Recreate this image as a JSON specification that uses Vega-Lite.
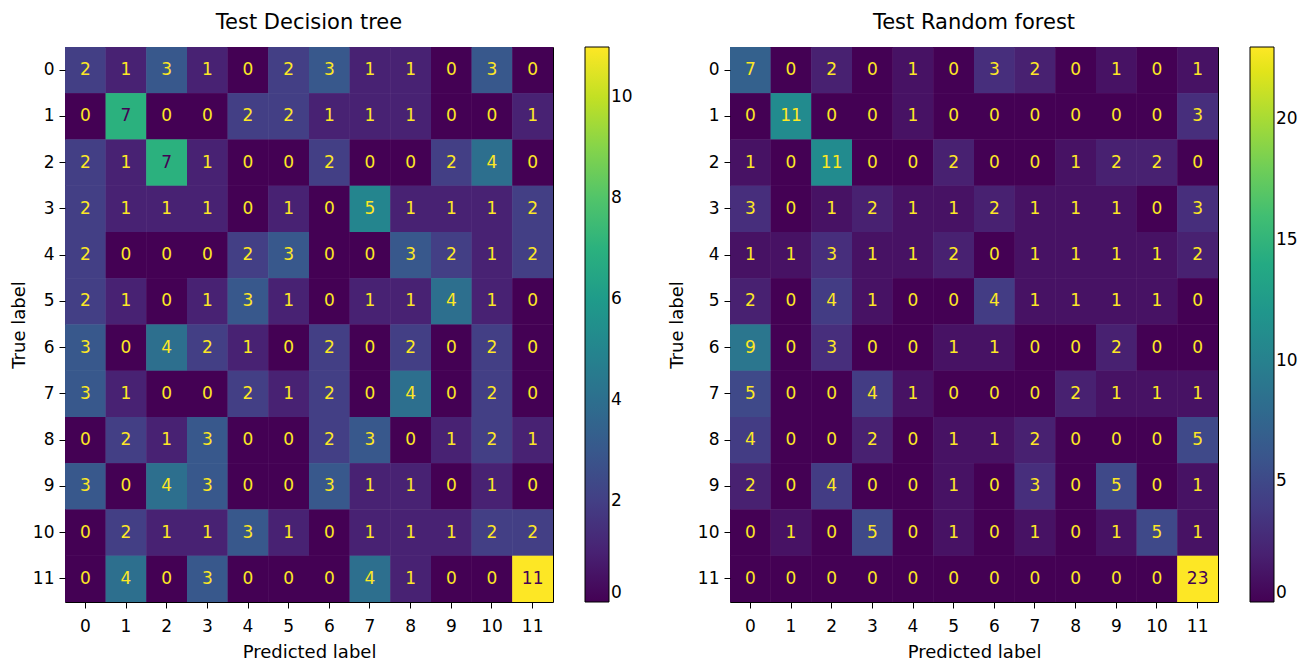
{
  "$schema": "https://vega.github.io/schema/vega-lite/v6.json",
  "padding": {"left": 9, "top": 11, "right": 0, "bottom": 0},
  "background": "white",
  "config": {
    "font": "DejaVu Sans",
    "view": {"stroke": "black", "strokeWidth": 1},
    "axis": {"labelFont": "DejaVu Sans", "labelFontSize": 17, "labelColor": "black", "titleFont": "DejaVu Sans", "titleFontSize": 18, "titleFontWeight": "normal", "titleColor": "black", "tickColor": "black", "tickSize": 6, "labelPadding": 5, "domain": false, "grid": false},
    "axisX": {"labelPadding": 10, "titlePadding": 9},
    "legend": {"labelFont": "DejaVu Sans", "labelFontSize": 17, "labelColor": "black", "gradientLength": 555, "gradientThickness": 24, "gradientStrokeColor": "black", "gradientStrokeWidth": 1, "offset": 32, "labelOffset": 13, "padding": 0},
    "title": {"font": "DejaVu Sans", "fontSize": 21, "fontWeight": "normal", "color": "black", "offset": 14}
  },
  "datasets": {
    "dt": [
      {"t":0,"p":0,"v":2},{"t":0,"p":1,"v":1},{"t":0,"p":2,"v":3},{"t":0,"p":3,"v":1},{"t":0,"p":4,"v":0},{"t":0,"p":5,"v":2},{"t":0,"p":6,"v":3},{"t":0,"p":7,"v":1},{"t":0,"p":8,"v":1},{"t":0,"p":9,"v":0},{"t":0,"p":10,"v":3},{"t":0,"p":11,"v":0},
      {"t":1,"p":0,"v":0},{"t":1,"p":1,"v":7},{"t":1,"p":2,"v":0},{"t":1,"p":3,"v":0},{"t":1,"p":4,"v":2},{"t":1,"p":5,"v":2},{"t":1,"p":6,"v":1},{"t":1,"p":7,"v":1},{"t":1,"p":8,"v":1},{"t":1,"p":9,"v":0},{"t":1,"p":10,"v":0},{"t":1,"p":11,"v":1},
      {"t":2,"p":0,"v":2},{"t":2,"p":1,"v":1},{"t":2,"p":2,"v":7},{"t":2,"p":3,"v":1},{"t":2,"p":4,"v":0},{"t":2,"p":5,"v":0},{"t":2,"p":6,"v":2},{"t":2,"p":7,"v":0},{"t":2,"p":8,"v":0},{"t":2,"p":9,"v":2},{"t":2,"p":10,"v":4},{"t":2,"p":11,"v":0},
      {"t":3,"p":0,"v":2},{"t":3,"p":1,"v":1},{"t":3,"p":2,"v":1},{"t":3,"p":3,"v":1},{"t":3,"p":4,"v":0},{"t":3,"p":5,"v":1},{"t":3,"p":6,"v":0},{"t":3,"p":7,"v":5},{"t":3,"p":8,"v":1},{"t":3,"p":9,"v":1},{"t":3,"p":10,"v":1},{"t":3,"p":11,"v":2},
      {"t":4,"p":0,"v":2},{"t":4,"p":1,"v":0},{"t":4,"p":2,"v":0},{"t":4,"p":3,"v":0},{"t":4,"p":4,"v":2},{"t":4,"p":5,"v":3},{"t":4,"p":6,"v":0},{"t":4,"p":7,"v":0},{"t":4,"p":8,"v":3},{"t":4,"p":9,"v":2},{"t":4,"p":10,"v":1},{"t":4,"p":11,"v":2},
      {"t":5,"p":0,"v":2},{"t":5,"p":1,"v":1},{"t":5,"p":2,"v":0},{"t":5,"p":3,"v":1},{"t":5,"p":4,"v":3},{"t":5,"p":5,"v":1},{"t":5,"p":6,"v":0},{"t":5,"p":7,"v":1},{"t":5,"p":8,"v":1},{"t":5,"p":9,"v":4},{"t":5,"p":10,"v":1},{"t":5,"p":11,"v":0},
      {"t":6,"p":0,"v":3},{"t":6,"p":1,"v":0},{"t":6,"p":2,"v":4},{"t":6,"p":3,"v":2},{"t":6,"p":4,"v":1},{"t":6,"p":5,"v":0},{"t":6,"p":6,"v":2},{"t":6,"p":7,"v":0},{"t":6,"p":8,"v":2},{"t":6,"p":9,"v":0},{"t":6,"p":10,"v":2},{"t":6,"p":11,"v":0},
      {"t":7,"p":0,"v":3},{"t":7,"p":1,"v":1},{"t":7,"p":2,"v":0},{"t":7,"p":3,"v":0},{"t":7,"p":4,"v":2},{"t":7,"p":5,"v":1},{"t":7,"p":6,"v":2},{"t":7,"p":7,"v":0},{"t":7,"p":8,"v":4},{"t":7,"p":9,"v":0},{"t":7,"p":10,"v":2},{"t":7,"p":11,"v":0},
      {"t":8,"p":0,"v":0},{"t":8,"p":1,"v":2},{"t":8,"p":2,"v":1},{"t":8,"p":3,"v":3},{"t":8,"p":4,"v":0},{"t":8,"p":5,"v":0},{"t":8,"p":6,"v":2},{"t":8,"p":7,"v":3},{"t":8,"p":8,"v":0},{"t":8,"p":9,"v":1},{"t":8,"p":10,"v":2},{"t":8,"p":11,"v":1},
      {"t":9,"p":0,"v":3},{"t":9,"p":1,"v":0},{"t":9,"p":2,"v":4},{"t":9,"p":3,"v":3},{"t":9,"p":4,"v":0},{"t":9,"p":5,"v":0},{"t":9,"p":6,"v":3},{"t":9,"p":7,"v":1},{"t":9,"p":8,"v":1},{"t":9,"p":9,"v":0},{"t":9,"p":10,"v":1},{"t":9,"p":11,"v":0},
      {"t":10,"p":0,"v":0},{"t":10,"p":1,"v":2},{"t":10,"p":2,"v":1},{"t":10,"p":3,"v":1},{"t":10,"p":4,"v":3},{"t":10,"p":5,"v":1},{"t":10,"p":6,"v":0},{"t":10,"p":7,"v":1},{"t":10,"p":8,"v":1},{"t":10,"p":9,"v":1},{"t":10,"p":10,"v":2},{"t":10,"p":11,"v":2},
      {"t":11,"p":0,"v":0},{"t":11,"p":1,"v":4},{"t":11,"p":2,"v":0},{"t":11,"p":3,"v":3},{"t":11,"p":4,"v":0},{"t":11,"p":5,"v":0},{"t":11,"p":6,"v":0},{"t":11,"p":7,"v":4},{"t":11,"p":8,"v":1},{"t":11,"p":9,"v":0},{"t":11,"p":10,"v":0},{"t":11,"p":11,"v":11}
    ],
    "rf": [
      {"t":0,"p":0,"v":7},{"t":0,"p":1,"v":0},{"t":0,"p":2,"v":2},{"t":0,"p":3,"v":0},{"t":0,"p":4,"v":1},{"t":0,"p":5,"v":0},{"t":0,"p":6,"v":3},{"t":0,"p":7,"v":2},{"t":0,"p":8,"v":0},{"t":0,"p":9,"v":1},{"t":0,"p":10,"v":0},{"t":0,"p":11,"v":1},
      {"t":1,"p":0,"v":0},{"t":1,"p":1,"v":11},{"t":1,"p":2,"v":0},{"t":1,"p":3,"v":0},{"t":1,"p":4,"v":1},{"t":1,"p":5,"v":0},{"t":1,"p":6,"v":0},{"t":1,"p":7,"v":0},{"t":1,"p":8,"v":0},{"t":1,"p":9,"v":0},{"t":1,"p":10,"v":0},{"t":1,"p":11,"v":3},
      {"t":2,"p":0,"v":1},{"t":2,"p":1,"v":0},{"t":2,"p":2,"v":11},{"t":2,"p":3,"v":0},{"t":2,"p":4,"v":0},{"t":2,"p":5,"v":2},{"t":2,"p":6,"v":0},{"t":2,"p":7,"v":0},{"t":2,"p":8,"v":1},{"t":2,"p":9,"v":2},{"t":2,"p":10,"v":2},{"t":2,"p":11,"v":0},
      {"t":3,"p":0,"v":3},{"t":3,"p":1,"v":0},{"t":3,"p":2,"v":1},{"t":3,"p":3,"v":2},{"t":3,"p":4,"v":1},{"t":3,"p":5,"v":1},{"t":3,"p":6,"v":2},{"t":3,"p":7,"v":1},{"t":3,"p":8,"v":1},{"t":3,"p":9,"v":1},{"t":3,"p":10,"v":0},{"t":3,"p":11,"v":3},
      {"t":4,"p":0,"v":1},{"t":4,"p":1,"v":1},{"t":4,"p":2,"v":3},{"t":4,"p":3,"v":1},{"t":4,"p":4,"v":1},{"t":4,"p":5,"v":2},{"t":4,"p":6,"v":0},{"t":4,"p":7,"v":1},{"t":4,"p":8,"v":1},{"t":4,"p":9,"v":1},{"t":4,"p":10,"v":1},{"t":4,"p":11,"v":2},
      {"t":5,"p":0,"v":2},{"t":5,"p":1,"v":0},{"t":5,"p":2,"v":4},{"t":5,"p":3,"v":1},{"t":5,"p":4,"v":0},{"t":5,"p":5,"v":0},{"t":5,"p":6,"v":4},{"t":5,"p":7,"v":1},{"t":5,"p":8,"v":1},{"t":5,"p":9,"v":1},{"t":5,"p":10,"v":1},{"t":5,"p":11,"v":0},
      {"t":6,"p":0,"v":9},{"t":6,"p":1,"v":0},{"t":6,"p":2,"v":3},{"t":6,"p":3,"v":0},{"t":6,"p":4,"v":0},{"t":6,"p":5,"v":1},{"t":6,"p":6,"v":1},{"t":6,"p":7,"v":0},{"t":6,"p":8,"v":0},{"t":6,"p":9,"v":2},{"t":6,"p":10,"v":0},{"t":6,"p":11,"v":0},
      {"t":7,"p":0,"v":5},{"t":7,"p":1,"v":0},{"t":7,"p":2,"v":0},{"t":7,"p":3,"v":4},{"t":7,"p":4,"v":1},{"t":7,"p":5,"v":0},{"t":7,"p":6,"v":0},{"t":7,"p":7,"v":0},{"t":7,"p":8,"v":2},{"t":7,"p":9,"v":1},{"t":7,"p":10,"v":1},{"t":7,"p":11,"v":1},
      {"t":8,"p":0,"v":4},{"t":8,"p":1,"v":0},{"t":8,"p":2,"v":0},{"t":8,"p":3,"v":2},{"t":8,"p":4,"v":0},{"t":8,"p":5,"v":1},{"t":8,"p":6,"v":1},{"t":8,"p":7,"v":2},{"t":8,"p":8,"v":0},{"t":8,"p":9,"v":0},{"t":8,"p":10,"v":0},{"t":8,"p":11,"v":5},
      {"t":9,"p":0,"v":2},{"t":9,"p":1,"v":0},{"t":9,"p":2,"v":4},{"t":9,"p":3,"v":0},{"t":9,"p":4,"v":0},{"t":9,"p":5,"v":1},{"t":9,"p":6,"v":0},{"t":9,"p":7,"v":3},{"t":9,"p":8,"v":0},{"t":9,"p":9,"v":5},{"t":9,"p":10,"v":0},{"t":9,"p":11,"v":1},
      {"t":10,"p":0,"v":0},{"t":10,"p":1,"v":1},{"t":10,"p":2,"v":0},{"t":10,"p":3,"v":5},{"t":10,"p":4,"v":0},{"t":10,"p":5,"v":1},{"t":10,"p":6,"v":0},{"t":10,"p":7,"v":1},{"t":10,"p":8,"v":0},{"t":10,"p":9,"v":1},{"t":10,"p":10,"v":5},{"t":10,"p":11,"v":1},
      {"t":11,"p":0,"v":0},{"t":11,"p":1,"v":0},{"t":11,"p":2,"v":0},{"t":11,"p":3,"v":0},{"t":11,"p":4,"v":0},{"t":11,"p":5,"v":0},{"t":11,"p":6,"v":0},{"t":11,"p":7,"v":0},{"t":11,"p":8,"v":0},{"t":11,"p":9,"v":0},{"t":11,"p":10,"v":0},{"t":11,"p":11,"v":23}
    ]
  },
  "spacing": 33,
  "resolve": {"scale": {"color": "independent"}},
  "hconcat": [
    {
      "title": "Test Decision tree",
      "width": 488,
      "height": 555,
      "data": {"name": "dt"},
      "encoding": {
        "x": {"field": "p", "type": "ordinal", "scale": {"paddingInner": 0, "paddingOuter": 0}, "axis": {"title": "Predicted label", "labelAngle": 0}},
        "y": {"field": "t", "type": "ordinal", "scale": {"paddingInner": 0, "paddingOuter": 0}, "axis": {"title": "True label", "titlePadding": 4}}
      },
      "layer": [
        {"mark": {"type": "rect"}, "encoding": {
          "color": {"field": "v", "type": "quantitative", "scale": {"scheme": "viridis", "domain": [0, 11]}, "legend": {"title": null, "values": [0, 2, 4, 6, 8, 10]}}}},
        {"mark": {"type": "rect"}, "encoding": {
          "color": {"field": "v", "type": "quantitative", "scale": {"scheme": "viridis", "domain": [0, 11]}, "legend": {"title": null, "values": [0, 2, 4, 6, 8, 10]}}}},
        {"mark": {"type": "text", "fontSize": 17, "font": "DejaVu Sans"}, "encoding": {"text": {"field": "v", "type": "quantitative"}, "color": {"condition": {"test": "datum.v > 5.5", "value": "#440154"}, "value": "#fde725"}}}
      ]
    },
    {
      "title": "Test Random forest",
      "width": 488,
      "height": 555,
      "data": {"name": "rf"},
      "encoding": {
        "x": {"field": "p", "type": "ordinal", "scale": {"paddingInner": 0, "paddingOuter": 0}, "axis": {"title": "Predicted label", "labelAngle": 0}},
        "y": {"field": "t", "type": "ordinal", "scale": {"paddingInner": 0, "paddingOuter": 0}, "axis": {"title": "True label", "titlePadding": 11}}
      },
      "layer": [
        {"mark": {"type": "rect"}, "encoding": {
          "color": {"field": "v", "type": "quantitative", "scale": {"scheme": "viridis", "domain": [0, 23]}, "legend": {"title": null, "values": [0, 5, 10, 15, 20]}}}},
        {"mark": {"type": "rect"}, "encoding": {
          "color": {"field": "v", "type": "quantitative", "scale": {"scheme": "viridis", "domain": [0, 23]}, "legend": {"title": null, "values": [0, 5, 10, 15, 20]}}}},
        {"mark": {"type": "text", "fontSize": 17, "font": "DejaVu Sans"}, "encoding": {"text": {"field": "v", "type": "quantitative"}, "color": {"condition": {"test": "datum.v > 11.5", "value": "#440154"}, "value": "#fde725"}}}
      ]
    }
  ]
}
